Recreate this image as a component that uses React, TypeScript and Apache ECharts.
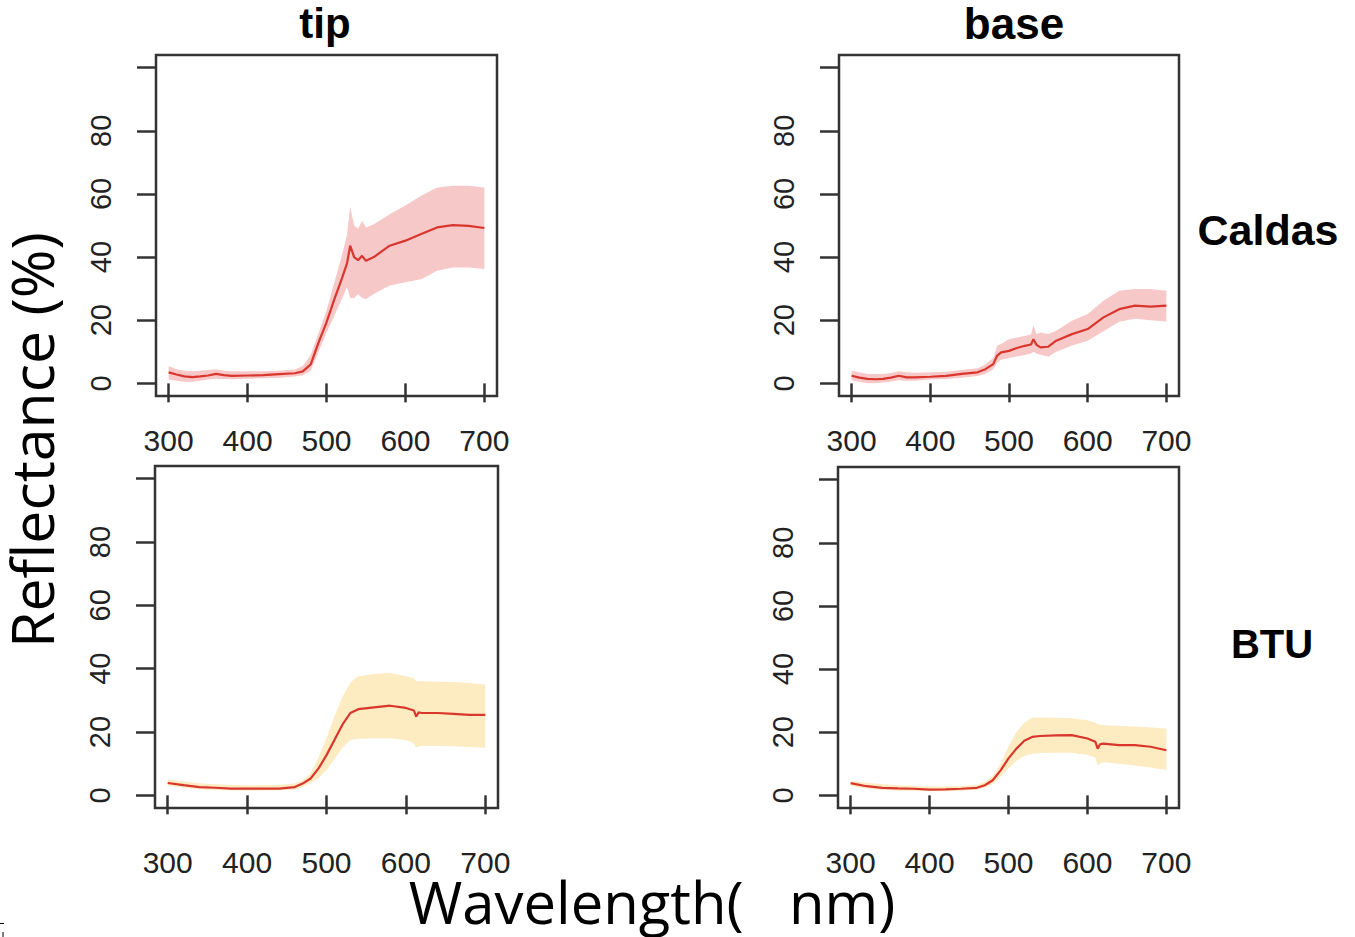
import React, { useEffect, useRef } from "react";
import * as echarts from "echarts";

// ---- data ----
const tipCaldasX = [300, 310, 320, 330, 340, 350, 360, 370, 380, 400, 420, 440, 460, 470, 480, 490, 500, 510, 520, 526, 530, 535, 540, 545, 550, 560, 580, 600, 620, 640, 660, 680, 700];
const tipCaldasMean = [3.5, 2.8, 2.2, 2.0, 2.2, 2.5, 3.0, 2.6, 2.4, 2.5, 2.6, 2.9, 3.2, 3.8, 6, 13, 19.3, 26.7, 33.6, 38, 43.6, 40, 39, 40.4, 38.8, 40, 43.6, 45.2, 47.3, 49.4, 50.1, 49.9, 49.2];
const tipCaldasHigh = [5.5, 4.5, 4, 3.8, 4, 4.2, 4.5, 4, 3.8, 3.8, 3.8, 4, 4.4, 5.5, 9, 16, 23, 32, 41, 47, 56, 50, 49, 51.5, 49.4, 50.4, 53.6, 56.3, 59.4, 62, 62.6, 62.6, 62];
const tipCaldasLow = [1.2, 0.8, 0.5, 0.5, 0.8, 1.2, 1.5, 1.4, 1.3, 1.5, 1.6, 1.8, 2.2, 2.6, 4, 10, 16, 21.5, 27, 30.5, 27, 27, 28.3, 27, 26.7, 28.3, 31, 32, 33, 35.7, 36.7, 36.7, 36.2];

const baseCaldasX = [300, 310, 320, 330, 340, 350, 360, 370, 380, 400, 420, 440, 460, 470, 480, 485, 490, 500, 510, 520, 528, 531, 535, 540, 550, 560, 580, 600, 620, 640, 660, 680, 700];
const baseCaldasMean = [2.4, 1.8, 1.4, 1.3, 1.4, 1.8, 2.4, 1.9, 1.9, 2.1, 2.4, 3.0, 3.5, 4.5, 6.1, 8.8, 9.8, 10.3, 11.2, 11.9, 12.3, 14, 12.2, 11.4, 11.6, 13.5, 15.6, 17.2, 20.9, 23.5, 24.6, 24.3, 24.6];
const baseCaldasHigh = [4, 3.5, 3, 3, 3, 3.3, 3.8, 3.5, 3.4, 3.5, 3.7, 4.2, 4.8, 6, 8, 12, 12.5, 14, 14.5, 15, 15.5, 18.3, 15.6, 16.1, 15.6, 16.7, 19.8, 22, 26.2, 29.3, 29.9, 29.9, 29.3];
const baseCaldasLow = [1, 0.5, 0, 0, 0.3, 0.6, 1.0, 0.8, 0.8, 1.2, 1.4, 1.8, 2.3, 3, 4.5, 6.5, 7.5, 8, 8.5, 9, 9.5, 10, 9.5, 9.1, 8.4, 10, 12, 13.5, 16.5, 19.5, 20.5, 20, 19.6];

const btuX = [300, 320, 340, 360, 380, 400, 420, 440, 460, 470, 480, 490, 500, 510, 520, 530, 540, 560, 580, 600, 610, 613, 616, 620, 640, 660, 680, 700];
const tipBtuMean = [3.9, 3.2, 2.6, 2.4, 2.1, 2.1, 2.1, 2.1, 2.6, 3.7, 5.3, 8.5, 12.7, 17.5, 22.3, 26, 27.2, 27.8, 28.3, 27.6, 26.8, 24.9, 26.2, 26, 26, 25.7, 25.4, 25.4];
const tipBtuHigh = [5, 4.4, 3.8, 3.5, 3.3, 3.2, 3.2, 3.3, 3.7, 4.8, 7, 12, 18, 25, 31, 35.6, 37.6, 38.3, 38.7, 37.6, 37, 36, 36, 36, 35.9, 35.8, 35.5, 35];
const tipBtuLow = [3, 2.5, 1.9, 1.7, 1.5, 1.5, 1.5, 1.6, 1.8, 2.6, 3.9, 5.5, 8, 11.5, 15, 17.5, 17.9, 18, 18, 17.4, 16.6, 15, 15.5, 15.6, 15.6, 15.5, 15.3, 15];

const baseBtuMean = [3.9, 2.9, 2.4, 2.2, 2.1, 1.8, 1.9, 2.1, 2.4, 3.2, 4.8, 7.9, 11.7, 14.8, 17.3, 18.5, 18.8, 19, 19.1, 18, 17, 14.8, 16.2, 16.4, 15.9, 15.9, 15.4, 14.3];
const baseBtuHigh = [4.5, 4, 3.5, 3.2, 3, 2.8, 2.8, 3, 3.3, 4.3, 6, 10, 15.5, 20, 23, 24.6, 24.7, 24.6, 24.4, 23.8, 23, 22.5, 22.4, 22.3, 22, 21.8, 21.5, 21.2];
const baseBtuLow = [3, 2.2, 1.8, 1.5, 1.4, 1.3, 1.3, 1.5, 1.8, 2.4, 3.5, 6, 8.5, 11, 12.5, 13.2, 13.4, 13.5, 13.5, 12.8, 12, 9.5, 10.2, 10.5, 10, 9.5, 8.8, 8];

const xTicks = [300, 400, 500, 600, 700];
const yTicks = [0, 20, 40, 60, 80, 100];
const yLabels = [0, 20, 40, 60, 80];

const columnTitles = ["tip", "base"];
const rowTitles = ["Caldas", "BTU"];
const yAxisTitle = "Reflectance (%)";
const xAxisTitle = "Wavelength(   nm)";

// ---- styling ----
const LINE_RED = "#d9362e";
const BAND_PINK = "#f7c8c8";
const BAND_YELLOW = "#fdebc1";
const AXIS_COLOR = "#333333";

const panels = [
  { x: tipCaldasX, mean: tipCaldasMean, low: tipCaldasLow, high: tipCaldasHigh, band: BAND_PINK, grid: { left: 156, top: 55, width: 341, height: 341 }, xMargin: 29 },
  { x: baseCaldasX, mean: baseCaldasMean, low: baseCaldasLow, high: baseCaldasHigh, band: BAND_PINK, grid: { left: 839, top: 55, width: 340, height: 341 }, xMargin: 29 },
  { x: btuX, mean: tipBtuMean, low: tipBtuLow, high: tipBtuHigh, band: BAND_YELLOW, grid: { left: 155, top: 466, width: 343, height: 342 }, xMargin: 39 },
  { x: btuX, mean: baseBtuMean, low: baseBtuLow, high: baseBtuHigh, band: BAND_YELLOW, grid: { left: 838, top: 467, width: 341, height: 341 }, xMargin: 39 },
];

const zip = (xs: number[], ys: number[]) => xs.map((x, i) => [x, ys[i]]);

function buildOption() {
  const grid: any[] = [];
  const xAxis: any[] = [];
  const yAxis: any[] = [];
  const series: any[] = [];
  const base = { fontFamily: "Liberation Sans", color: "#222" };

  panels.forEach((p, i) => {
    grid.push({
      ...p.grid,
      show: true,
      backgroundColor: "transparent",
      borderColor: AXIS_COLOR,
      borderWidth: 2.5,
      containLabel: false,
      outerBoundsMode: "none",
      z: 5,
    });
    xAxis.push({
      type: "value",
      gridIndex: i,
      min: 284,
      max: 716,
      axisLine: { show: false },
      splitLine: { show: false },
      axisTick: { show: true, inside: false, length: 19, customValues: xTicks, lineStyle: { color: AXIS_COLOR, width: 2.5 } },
      axisLabel: { show: true, customValues: xTicks, margin: p.xMargin, fontSize: 30, ...base },
    });
    yAxis.push({
      type: "value",
      gridIndex: i,
      min: -4,
      max: 104,
      axisLine: { show: false },
      splitLine: { show: false },
      axisTick: { show: true, inside: false, length: 19, customValues: yTicks, lineStyle: { color: AXIS_COLOR, width: 2.5 } },
      axisLabel: { show: true, customValues: yLabels, rotate: 90, margin: 41, fontSize: 29, ...base },
    });
    const xs = p.x;
    const lows = p.low;
    const highs = p.high;
    const fill = p.band;
    series.push({
      type: "custom",
      xAxisIndex: i,
      yAxisIndex: i,
      data: xs.map((x, k) => [x, lows[k], highs[k]]),
      encode: { x: 0, y: [1, 2] },
      renderItem: (params: any, api: any) => {
        if (params.dataIndex !== 0) return null;
        const upper = xs.map((x, k) => api.coord([x, highs[k]]));
        const lower = xs.map((x, k) => api.coord([x, lows[k]])).reverse();
        return {
          type: "polygon",
          shape: { points: upper.concat(lower) },
          style: { fill, stroke: null },
        };
      },
      silent: true,
      z: 1,
    });
    series.push({
      type: "line",
      xAxisIndex: i,
      yAxisIndex: i,
      data: zip(xs, p.mean),
      symbol: "none",
      lineStyle: { color: LINE_RED, width: 2.2 },
      silent: true,
      z: 2,
    });
  });

  const titleFont = "Liberation Sans";
  const graphic: any[] = [
    { type: "text", x: 325, y: 23, style: { text: columnTitles[0], font: `bold 42px '${titleFont}'`, fill: "#000", align: "center", verticalAlign: "middle" } },
    { type: "text", x: 1014, y: 23, style: { text: columnTitles[1], font: `bold 44px '${titleFont}'`, fill: "#000", align: "center", verticalAlign: "middle" } },
    { type: "text", x: 1268, y: 230, style: { text: rowTitles[0], font: `bold 43px '${titleFont}'`, fill: "#000", align: "center", verticalAlign: "middle" } },
    { type: "text", x: 1272, y: 644, style: { text: rowTitles[1], font: `bold 40px '${titleFont}'`, fill: "#000", align: "center", verticalAlign: "middle" } },
    { type: "text", x: 31, y: 440, rotation: Math.PI / 2, style: { text: yAxisTitle, font: "59px 'Open Sans'", lineHeight: 50, fill: "#000", align: "center", verticalAlign: "middle" } },
    { type: "text", x: 652, y: 901, style: { text: xAxisTitle, font: "58px 'Open Sans'", lineHeight: 50, fill: "#000", align: "center", verticalAlign: "middle" } },
    { type: "line", shape: { x1: 0, y1: 923.5, x2: 4, y2: 923.5 }, style: { stroke: "#000", lineWidth: 1 } },
    { type: "line", shape: { x1: 3, y1: 932, x2: 3, y2: 937 }, style: { stroke: "#000", lineWidth: 1 } },
  ];

  return {
    animation: false,
    backgroundColor: "#ffffff",
    grid,
    xAxis,
    yAxis,
    series,
    graphic,
  };
}

export default function App() {
  const ref = useRef<HTMLDivElement>(null);
  useEffect(() => {
    if (!ref.current) return;
    const chart = echarts.init(ref.current, undefined, { renderer: "svg" });
    chart.setOption(buildOption() as any);
    return () => chart.dispose();
  }, []);
  return <div ref={ref} style={{ position: "fixed", left: 0, top: 0, width: 1355, height: 937, background: "#fff" }} />;
}
